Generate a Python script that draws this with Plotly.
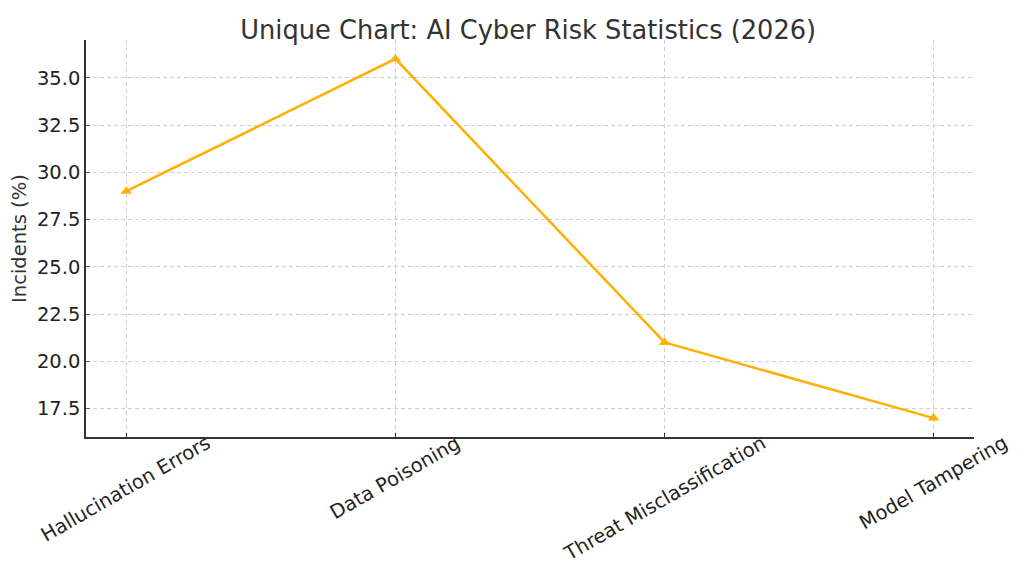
import plotly.graph_objects as go

# data
risk_types = ["Hallucination Errors", "Data Poisoning", "Threat Misclassification", "Model Tampering"]
incidents_pct = [29, 36, 21, 17]
y_ticks = [17.5, 20.0, 22.5, 25.0, 27.5, 30.0, 32.5, 35.0]

line_color = "#FFB000"
text_color = "#333333"
font_family = "DejaVu Sans"

fig = go.Figure()
fig.add_trace(go.Scatter(
    x=list(range(len(risk_types))),
    y=incidents_pct,
    mode="lines+markers",
    line=dict(color=line_color, width=2.5),
    marker=dict(symbol="triangle-up", size=10, color=line_color),
    showlegend=False,
))

# matplotlib-style rotated, centred category labels
for i, name in enumerate(risk_types):
    fig.add_annotation(
        x=i, y=0.022, xref="x", yref="paper",
        text=name, textangle=-30, showarrow=False,
        xanchor="center", yanchor="top",
        font=dict(family=font_family, size=19.5, color="#222222"),
    )

# the y title sits by hand in the left margin
fig.add_annotation(
    x=-0.075, y=0.5, xref="paper", yref="paper",
    text="Incidents (%)", textangle=-90, showarrow=False,
    xanchor="center", yanchor="middle",
    font=dict(family=font_family, size=19.5, color=text_color),
)

# page body has an 8px margin, so the figure is made 8px smaller
fig.update_layout(
    width=1016, height=558,
    margin=dict(l=78, r=50, t=32, b=129),
    paper_bgcolor="white", plot_bgcolor="white",
    font=dict(family=font_family, size=19.5, color="#222222"),
    title=dict(
        text="Unique Chart: AI Cyber Risk Statistics (2026)",
        x=0.512, xanchor="center", y=0.96, yanchor="middle",
        font=dict(family=font_family, size=25.7, color=text_color),
    ),
)

fig.update_xaxes(
    range=[-0.15, 3.15],
    tickvals=list(range(len(risk_types))),
    ticktext=[""] * len(risk_types),
    showline=True, linecolor="#333333", linewidth=1.5,
    ticks="inside", ticklen=4, tickcolor="#333333",
    showgrid=True, gridcolor="#d0d0d0", griddash="4px,3px", gridwidth=1,
    zeroline=False, mirror=False, automargin=False,
)
fig.update_yaxes(
    range=[16.0, 37.0],
    tickvals=y_ticks,
    ticktext=[f"{v:.1f}" for v in y_ticks],
    showline=True, linecolor="#333333", linewidth=1.5,
    ticks="inside", ticklen=4, tickcolor="#666666",
    showgrid=True, gridcolor="#d0d0d0", griddash="4px,3px", gridwidth=1,
    zeroline=False, mirror=False, automargin=False,
)

fig.write_html("out.html")
